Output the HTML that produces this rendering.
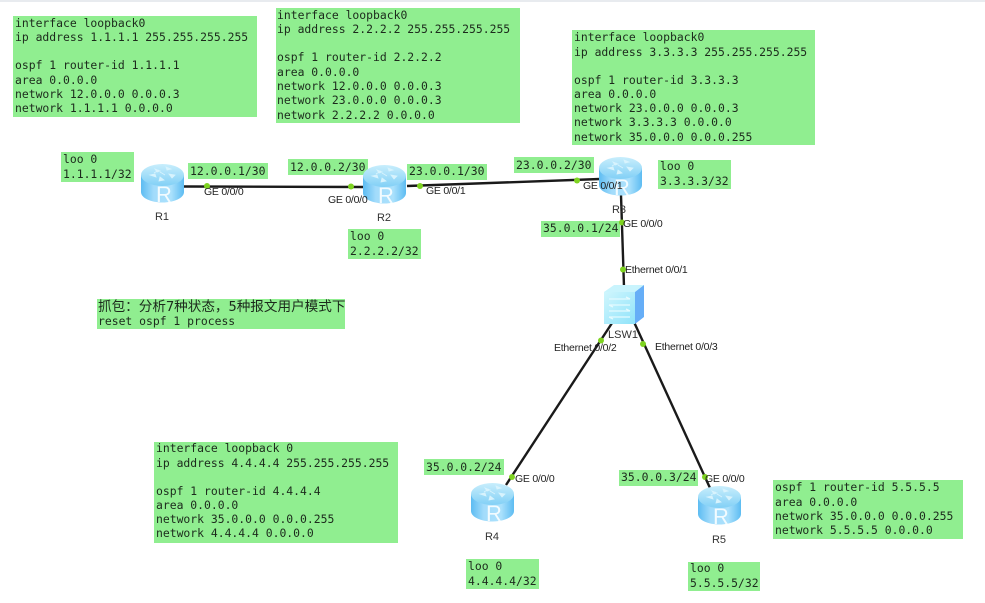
<!DOCTYPE html>
<html>
<head>
<meta charset="utf-8">
<style>
html,body{margin:0;padding:0;background:#fff;width:985px;height:603px;overflow:hidden}
svg{display:block;filter:blur(.35px)}
.m{font-family:"DejaVu Sans Mono","Liberation Mono","Noto Sans CJK SC",monospace;font-size:11.4px;fill:#1c2a1c}
.c{font-family:"DejaVu Sans Mono","Noto Sans CJK SC",monospace;font-size:13.6px;fill:#1c2a1c}
.l{font-family:"Liberation Sans",sans-serif;font-size:10.5px;fill:#222;letter-spacing:-.25px}
.n{font-family:"Liberation Sans",sans-serif;font-size:11px;fill:#333;text-anchor:middle}
</style>
</head>
<body>
<svg width="985" height="603" viewBox="0 0 985 603" xmlns="http://www.w3.org/2000/svg">
<defs>
<linearGradient id="side" x1="0" x2="1" y1="0" y2="0">
<stop offset="0" stop-color="#5dbcf2"/><stop offset=".3" stop-color="#a3dcfb"/><stop offset=".7" stop-color="#abe1fc"/><stop offset="1" stop-color="#5dbcf2"/>
</linearGradient>
<linearGradient id="top" x1="0" x2="0" y1="0" y2="1">
<stop offset="0" stop-color="#c8eefc"/><stop offset="1" stop-color="#82d0f6"/>
</linearGradient>
<linearGradient id="sw" x1="0" x2="1" y1="0" y2="1">
<stop offset="0" stop-color="#d0f6fd"/><stop offset="1" stop-color="#8fe3fa"/>
</linearGradient>
<g id="router">
<path d="M0 11V28C0 34 10 38.500 21.500 38.500S43 34 43 28V11Z" fill="url(#side)"/>
<ellipse cx="21.500" cy="11" rx="21.500" ry="11" fill="url(#top)"/>
<path d="M14 5l5 2-3 1zM25 3l5 2-4 1zM9 11l5-1 1 3zM28 10l6 1-3 3zM19 13l4 3-5 1zM19 8l5 3M13 9l5-3" fill="#d8f3fd" stroke="#d8f3fd" stroke-width=".8"/>
<text x="23" y="38" text-anchor="middle" font-family="Liberation Sans,sans-serif" font-size="22" fill="#f2fbff">R</text>
</g>
<g id="switch">
<path d="M0 7L10 0H40L31 7Z" fill="#c9f4fd"/>
<path d="M31 7L40 0V32L31 39Z" fill="#66aef7"/>
<rect x="0" y="7" width="31" height="32" fill="url(#sw)"/>
<path d="M5 14H26M26 14l-4-2M5 20H26M5 20l4 2M5 26H26M26 26l-4-2M5 32H26M5 32l4 2" stroke="#e4fafe" stroke-width="1.300" fill="none"/>
</g>
</defs>

<rect x="0" y="0" width="985" height="2" fill="#e8ebef"/>

<g fill="#90ee90">
<rect x="13" y="16" width="244" height="101"/>
<rect x="276" y="8" width="244" height="115"/>
<rect x="572" y="30" width="243" height="115"/>
<rect x="154" y="442" width="244" height="101"/>
<rect x="773" y="480" width="190" height="59"/>
<rect x="61" y="152" width="73" height="30"/>
<rect x="188" y="163" width="80" height="16"/>
<rect x="288" y="159" width="80" height="16"/>
<rect x="407" y="164" width="80" height="16"/>
<rect x="514" y="157" width="80" height="16"/>
<rect x="658" y="160" width="73" height="29"/>
<rect x="348" y="229" width="73" height="30"/>
<rect x="541" y="221" width="79" height="16"/>
<rect x="424" y="459" width="80" height="16"/>
<rect x="619" y="470" width="79" height="16"/>
<rect x="466" y="559" width="73" height="30"/>
<rect x="688" y="562" width="72" height="29"/>
<rect x="97" y="299" width="248" height="30"/>
</g>

<g stroke="#1a1a1a" stroke-width="2.400" fill="none">
<path d="M184 186.500L363 187"/>
<path d="M407 186L600 179"/>
<path d="M621 195L624 287"/>
<path d="M614 320L506 485"/>
<path d="M634 322L710 488"/>
</g>

<use href="#router" x="141" y="164"/>
<use href="#router" x="363" y="165"/>
<use href="#router" x="599" y="157"/>
<use href="#router" x="471" y="483"/>
<use href="#router" x="698" y="486"/>
<use href="#switch" x="604" y="285"/>

<g fill="#7ed321">
<circle cx="207" cy="186" r="3"/>
<circle cx="351" cy="186.500" r="3"/>
<circle cx="420" cy="186" r="3"/>
<circle cx="577" cy="180.500" r="3"/>
<circle cx="622" cy="222.500" r="3"/>
<circle cx="623" cy="269.500" r="3"/>
<circle cx="601" cy="340.500" r="3"/>
<circle cx="643" cy="344" r="3"/>
<circle cx="512" cy="477" r="3"/>
<circle cx="705" cy="477" r="3"/>
</g>

<g class="m">
<text class="m" x="15" y="27">interface loopback0</text>
<text class="m" x="15" y="41">ip address 1.1.1.1 255.255.255.255</text>
<text class="m" x="15" y="69">ospf 1 router-id 1.1.1.1</text>
<text class="m" x="15" y="84">area 0.0.0.0</text>
<text class="m" x="15" y="98">network 12.0.0.0 0.0.0.3</text>
<text class="m" x="15" y="112">network 1.1.1.1 0.0.0.0</text>

<text class="m" x="277" y="19">interface loopback0</text>
<text class="m" x="277" y="33">ip address 2.2.2.2 255.255.255.255</text>
<text class="m" x="277" y="61">ospf 1 router-id 2.2.2.2</text>
<text class="m" x="277" y="76">area 0.0.0.0</text>
<text class="m" x="277" y="90">network 12.0.0.0 0.0.0.3</text>
<text class="m" x="277" y="104">network 23.0.0.0 0.0.0.3</text>
<text class="m" x="277" y="119">network 2.2.2.2 0.0.0.0</text>

<text class="m" x="574" y="41">interface loopback0</text>
<text class="m" x="574" y="56">ip address 3.3.3.3 255.255.255.255</text>
<text class="m" x="574" y="84">ospf 1 router-id 3.3.3.3</text>
<text class="m" x="574" y="98">area 0.0.0.0</text>
<text class="m" x="574" y="112">network 23.0.0.0 0.0.0.3</text>
<text class="m" x="574" y="126">network 3.3.3.3 0.0.0.0</text>
<text class="m" x="574" y="141">network 35.0.0.0 0.0.0.255</text>

<text class="m" x="156" y="452">interface loopback 0</text>
<text class="m" x="156" y="467">ip address 4.4.4.4 255.255.255.255</text>
<text class="m" x="156" y="495">ospf 1 router-id 4.4.4.4</text>
<text class="m" x="156" y="509">area 0.0.0.0</text>
<text class="m" x="156" y="523">network 35.0.0.0 0.0.0.255</text>
<text class="m" x="156" y="537">network 4.4.4.4 0.0.0.0</text>

<text class="m" x="775" y="491">ospf 1 router-id 5.5.5.5</text>
<text class="m" x="775" y="506">area 0.0.0.0</text>
<text class="m" x="775" y="520">network 35.0.0.0 0.0.0.255</text>
<text class="m" x="775" y="534">network 5.5.5.5 0.0.0.0</text>

<text class="m" x="63" y="163">loo 0</text>
<text class="m" x="63" y="178">1.1.1.1/32</text>
<text class="m" x="190" y="175">12.0.0.1/30</text>
<text class="m" x="290" y="171">12.0.0.2/30</text>
<text class="m" x="409" y="175">23.0.0.1/30</text>
<text class="m" x="516" y="169">23.0.0.2/30</text>
<text class="m" x="660" y="170">loo 0</text>
<text class="m" x="660" y="185">3.3.3.3/32</text>
<text class="m" x="350" y="240">loo 0</text>
<text class="m" x="350" y="255">2.2.2.2/32</text>
<text class="m" x="543" y="232">35.0.0.1/24</text>
<text class="m" x="426" y="471">35.0.0.2/24</text>
<text class="m" x="621" y="481">35.0.0.3/24</text>
<text class="m" x="468" y="570">loo 0</text>
<text class="m" x="468" y="585">4.4.4.4/32</text>
<text class="m" x="690" y="572">loo 0</text>
<text class="m" x="690" y="587">5.5.5.5/32</text>
<text class="c" x="98" y="311">抓包：分析7种状态，5种报文用户模式下</text>
<text class="m" x="98" y="325">reset ospf 1 process</text>
</g>

<text class="l" x="204" y="195">GE 0/0/0</text>
<text class="l" x="328" y="203">GE 0/0/0</text>
<text class="l" x="426" y="194">GE 0/0/1</text>
<text class="l" x="583" y="189">GE 0/0/1</text>
<text class="l" x="623" y="227">GE 0/0/0</text>
<text class="l" x="625" y="273">Ethernet 0/0/1</text>
<text class="l" x="554" y="351">Ethernet 0/0/2</text>
<text class="l" x="655" y="350">Ethernet 0/0/3</text>
<text class="l" x="515" y="482">GE 0/0/0</text>
<text class="l" x="705" y="482">GE 0/0/0</text>

<text class="n" x="162" y="220">R1</text>
<text class="n" x="384" y="221">R2</text>
<text class="n" x="619" y="213">R3</text>
<text class="n" x="623" y="338">LSW1</text>
<text class="n" x="492" y="540">R4</text>
<text class="n" x="719" y="543">R5</text>
</svg>
</body>
</html>
